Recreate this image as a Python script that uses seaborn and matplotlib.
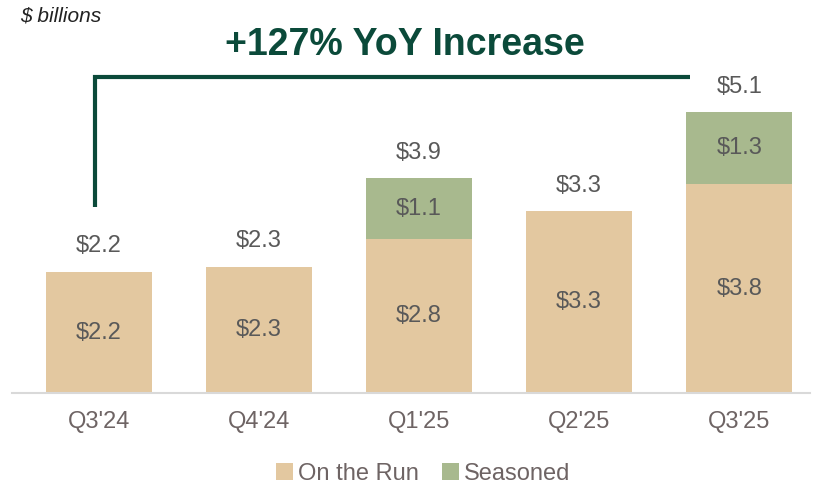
import matplotlib
matplotlib.use('Agg')
import matplotlib.pyplot as plt
import seaborn as sns
import pandas as pd

# Data ($ billions)
quarters = ["Q3'24", "Q4'24", "Q1'25", "Q2'25", "Q3'25"]
on_the_run = [2.2, 2.3, 2.8, 3.3, 3.8]
seasoned = [0.0, 0.0, 1.1, 0.0, 1.3]
title_text = '+127% YoY Increase'

TAN = '#e3c8a0'
GREEN = '#a8b98e'
DARK = '#0b4a3a'
TXT = '#595959'
TICK = '#6e6464'

df = pd.DataFrame({'quarter': quarters, 'on_run': on_the_run, 'seasoned': seasoned})
df['total'] = df['on_run'] + df['seasoned']

sns.set_style('white')
plt.rcParams['font.family'] = ['Liberation Sans', 'DejaVu Sans']

fig = plt.figure(figsize=(8.15, 4.83), dpi=100)
ax = fig.add_axes([0.0147, 0.1863, 0.9795, 0.8137])

# stacked bars: total first (green), then on-the-run on top (tan)
sns.barplot(data=df, x='quarter', y='total', color=GREEN, width=0.66,
            saturation=1, linewidth=0, ax=ax, label='Seasoned')
sns.barplot(data=df, x='quarter', y='on_run', color=TAN, width=0.66,
            saturation=1, linewidth=0, ax=ax, label='On the Run')

ax.set_xlim(-0.544, 4.444)
ax.set_ylim(0, 7.145)

for i, row in df.iterrows():
    ax.text(i, row['on_run'] / 2, f"${row['on_run']:.1f}", ha='center', va='center',
            fontsize=17, color=TXT)
    if row['seasoned'] > 0:
        ax.text(i, row['on_run'] + row['seasoned'] / 2, f"${row['seasoned']:.1f}",
                ha='center', va='center', fontsize=17, color=TXT)
    ax.text(i, row['total'] + 0.47, f"${row['total']:.1f}", ha='center', va='center',
            fontsize=17, color=TXT)

# growth bracket
ax.plot([-0.025, -0.025, 3.69], [3.38, 5.75, 5.75], color=DARK, lw=3,
        solid_joinstyle='miter', solid_capstyle='butt', clip_on=False)
ax.text(1.913, 6.32, title_text, ha='center', va='center', fontsize=27,
        fontweight='bold', color=DARK)

for s in ['top', 'right', 'left']:
    ax.spines[s].set_visible(False)
ax.spines['bottom'].set_color('#d9d9d9')
ax.spines['bottom'].set_linewidth(1.5)
ax.set_yticks([])
ax.set_xlabel('')
ax.set_ylabel('')
ax.tick_params(axis='x', length=0, pad=13, labelsize=17, labelcolor=TICK)

fig.text(0.025, 0.967, '$ billions', fontsize=15, style='italic', color='#222222',
         ha='left', va='center')

handles, labels = ax.get_legend_handles_labels()
order = [labels.index('On the Run'), labels.index('Seasoned')]
ax.legend([handles[k] for k in order], [labels[k] for k in order],
          loc='center', bbox_to_anchor=(0.515, -0.205), ncol=2, frameon=False,
          fontsize=17, labelcolor=TICK, handlelength=0.7, handleheight=0.7,
          handletextpad=0.2, columnspacing=1.0)

fig.savefig('out.png', dpi=100)
